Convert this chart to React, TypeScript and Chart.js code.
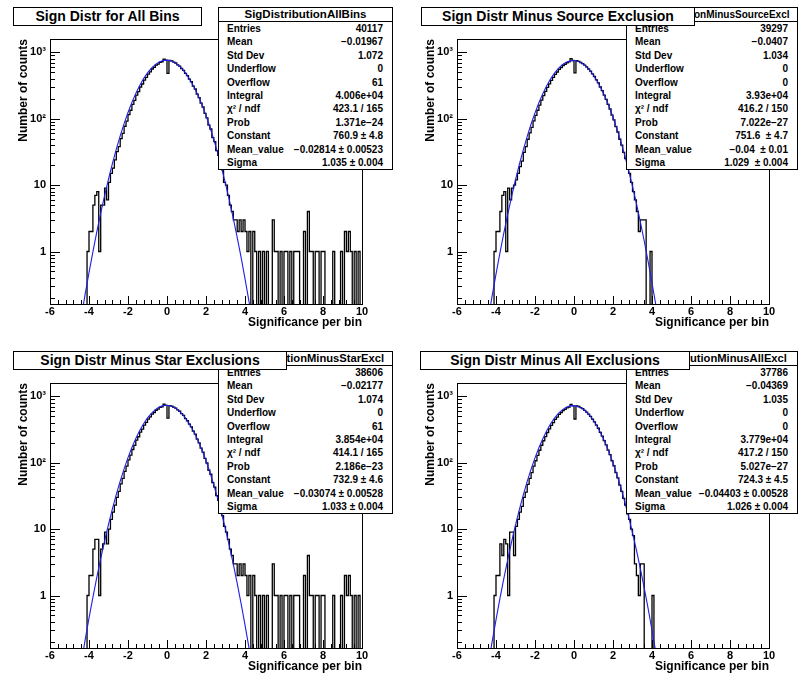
import React, { useEffect, useRef } from "react";
import { Chart, registerables } from "chart.js";

Chart.register(...registerables);

const FONT = "'Liberation Sans', Arial, Helvetica, sans-serif";

// ---------- axis ranges & ticks ----------
const X_MIN = -6;
const X_MAX = 10;
const Y_MIN = 0.162;
const Y_MAX = 1585;
const xTickValues = [-6, -4, -2, 0, 2, 4, 6, 8, 10];
const xTickLabels = ["-6", "-4", "-2", "0", "2", "4", "6", "8", "10"];
const yTickValues = [1, 10, 100, 1000];
const yTickLabels = ["1", "10", "10²", "10³"];

// ---------- histogram bins (width 0.1, core starts at -4.5, tail starts at 3.6) ----------
const BIN_START = -4.5;
const BIN_WIDTH = 0.1;

const countsAllBins = [
  0, 0, 0, 0, 1, 2, 2, 5, 7, 8, 1,
  5, 5, 9, 6, 11, 15, 18, 24, 32, 38,
  50, 60, 77, 92, 115, 134, 164, 189, 226, 255,
  300, 333, 382, 420, 470, 508, 560, 592, 640, 665,
  705, 720, 790, 760, 480, 752, 740, 710, 690, 648,
  618, 570, 535, 480, 445, 395, 360, 310, 280, 235,
  207, 172, 150, 120, 103, 80, 70, 52, 45, 33,
  28, 20, 17, 11, 10, 7, 5, 4, 3, 3,
];
const countsSourceExcl = [
  0, 0, 0, 0, 1, 2, 2, 4, 7, 8, 1,
  9, 6, 9, 10, 12, 15, 19, 23, 31, 38,
  49, 61, 74, 93, 112, 134, 160, 190, 222, 257,
  296, 335, 378, 418, 465, 505, 553, 588, 632, 660,
  696, 715, 800, 752, 490, 745, 730, 702, 676, 640,
  603, 560, 520, 472, 432, 384, 346, 300, 265, 226,
  196, 164, 140, 113, 96, 76, 63, 49, 40, 31,
  25, 18, 15, 11, 8, 6, 4, 2, 3, 3,
];
const countsStarExcl = [
  0, 0, 0, 0, 1, 2, 2, 5, 7, 7, 1,
  5, 6, 9, 6, 10, 14, 18, 23, 30, 37,
  48, 58, 74, 89, 110, 130, 158, 182, 218, 246,
  289, 321, 368, 405, 452, 490, 540, 570, 616, 640,
  680, 694, 760, 732, 470, 725, 713, 684, 664, 624,
  595, 549, 515, 462, 428, 380, 347, 298, 270, 226,
  199, 166, 144, 116, 99, 77, 67, 50, 43, 32,
  27, 19, 16, 11, 9, 7, 5, 4, 3, 3,
];
const countsAllExcl = [
  0, 0, 0, 0, 1, 2, 2, 6, 4, 7, 6,
  1, 9, 9, 4, 11, 14, 18, 22, 30, 36,
  47, 58, 71, 89, 107, 129, 154, 183, 214, 247,
  285, 322, 364, 402, 448, 486, 533, 566, 609, 636,
  670, 688, 755, 724, 455, 716, 702, 675, 650, 614,
  578, 537, 498, 452, 413, 367, 330, 286, 252, 215,
  186, 155, 132, 107, 90, 71, 59, 46, 37, 29,
  23, 17, 14, 10, 8, 3, 2, 1, 3, 3,
];

// tails from 3.6 upwards
const tailWithSources = [
  2, 3, 2, 3, 2, 1, 2, 0, 2, 1,
  0, 1, 0, 1, 0, 1, 0, 0, 3, 1,
  1, 0, 1, 0, 1, 1, 0, 1, 0, 1,
  1, 1, 0, 0, 2, 0, 4, 1, 1, 0,
  1, 1, 0, 1, 1, 0, 0, 0, 0, 1,
  0, 0, 0, 1, 0, 2, 1, 2, 1, 0,
  1, 0, 1, 0,
];
const tailSourceExcl = [3, 0, 0, 1, 0];
const tailAllExcl = [0, 0, 0, 0, 1, 0];

// ---------- gaussian fit curves, sampled ----------
const fitX = [
  -4.6, -4.4, -4.2, -4.0, -3.8, -3.6, -3.4, -3.2, -3.0, -2.8, -2.6, -2.4,
  -2.2, -2.0, -1.8, -1.6, -1.4, -1.2, -1.0, -0.8, -0.6, -0.4, -0.2, 0,
  0.2, 0.4, 0.6, 0.8, 1.0, 1.2, 1.4, 1.6, 1.8, 2.0, 2.2, 2.4,
  2.6, 2.8, 3.0, 3.2, 3.4, 3.6, 3.8, 4.0, 4.2, 4.4, 4.6,
];
const fitAllBins = [
  0.044, 0.101, 0.226, 0.48, 0.99, 1.97, 3.77, 6.95, 12.3, 21.1, 34.7, 55.1,
  84.2, 124, 176, 240, 316, 401, 490, 576, 653, 713, 751, 761,
  743, 699, 633, 553, 465, 376, 294, 221, 160, 112, 75.0, 48.6,
  30.3, 18.2, 10.5, 5.87, 3.16, 1.63, 0.815, 0.391, 0.181, 0.081, 0.035,
];
const fitSourceExcl = [
  0.041, 0.095, 0.213, 0.457, 0.947, 1.89, 3.63, 6.73, 12.0, 20.6, 34.0, 54.1,
  83.1, 122.5, 174, 238, 314, 398, 486, 572, 648, 707, 743, 751,
  731, 686, 619, 539, 451, 364, 282, 211, 152, 105, 70.3, 45.2,
  28.0, 16.7, 9.57, 5.29, 2.81, 1.44, 0.712, 0.338, 0.155, 0.068, 0.029,
];
const fitStarExcl = [
  0.041, 0.095, 0.213, 0.455, 0.94, 1.88, 3.6, 6.65, 11.8, 20.2, 33.3, 52.9,
  80.9, 119, 169, 231, 304, 386, 472, 555, 629, 687, 723, 733,
  715, 673, 609, 532, 447, 362, 282, 212, 153, 107, 71.7, 46.3,
  28.8, 17.3, 9.95, 5.53, 2.96, 1.52, 0.757, 0.361, 0.166, 0.074, 0.032,
];
const fitAllExcl = [
  0.037, 0.088, 0.2, 0.43, 0.9, 1.8, 3.45, 6.42, 11.5, 19.8, 32.8, 52.2,
  80.2, 118, 168, 230, 303, 384, 469, 552, 625, 682, 717, 724,
  704, 660, 595, 517, 432, 348, 269, 200, 144, 99, 66, 42.2,
  26.0, 15.4, 8.8, 4.85, 2.56, 1.3, 0.64, 0.3, 0.137, 0.06, 0.025,
];

// ---------- titles & statistics ----------
const panelTitles = [
  "Sign Distr for All Bins",
  "Sign Distr Minus Source Exclusion",
  "Sign Distr Minus Star Exclusions",
  "Sign Distr Minus All Exclusions",
];
const statNames = [
  "SigDistributionAllBins",
  "SigDistributionMinusSourceExcl",
  "SigDistributionMinusStarExcl",
  "SigDistributionMinusAllExcl",
];
const statLabels = [
  "Entries", "Mean", "Std Dev", "Underflow", "Overflow", "Integral",
  "χ² / ndf", "Prob", "Constant", "Mean_value", "Sigma",
];
const statsAllBins = [
  "40117", "−0.01967", "1.072", "0", "61", "4.006e+04",
  "423.1 / 165", "1.371e−24", "760.9 ± 4.8", "−0.02814 ± 0.00523", "1.035 ± 0.004",
];
const statsSourceExcl = [
  "39297", "−0.0407", "1.034", "0", "0", "3.93e+04",
  "416.2 / 150", "7.022e−27", "751.6  ± 4.7", "−0.04  ± 0.01", "1.029  ± 0.004",
];
const statsStarExcl = [
  "38606", "−0.02177", "1.074", "0", "61", "3.854e+04",
  "414.1 / 165", "2.186e−23", "732.9 ± 4.6", "−0.03074 ± 0.00528", "1.033 ± 0.004",
];
const statsAllExcl = [
  "37786", "−0.04369", "1.035", "0", "0", "3.779e+04",
  "417.2 / 150", "5.027e−27", "724.3 ± 4.5", "−0.04403 ± 0.00528", "1.026 ± 0.004",
];

const yTitle = "Number of counts";
const xTitle = "Significance per bin";

// ---------- layout (styles) ----------
const CANVAS_W = 393;
const CANVAS_H = 338;

const panels = [
  { left: 0, top: 0, core: countsAllBins, tail: tailWithSources, fit: fitAllBins, stats: statsAllBins,
    title: panelTitles[0], name: statNames[0], titleBox: [13, 189], statBox: [218, 175], headSize: 11.5 },
  { left: 407, top: 0, core: countsSourceExcl, tail: tailSourceExcl, fit: fitSourceExcl, stats: statsSourceExcl,
    title: panelTitles[1], name: statNames[1], titleBox: [14, 274], statBox: [219, 172], headSize: 10 },
  { left: 0, top: 344, core: countsStarExcl, tail: tailWithSources, fit: fitStarExcl, stats: statsStarExcl,
    title: panelTitles[2], name: statNames[2], titleBox: [13, 274], statBox: [218, 175], headSize: 11.2 },
  { left: 407, top: 344, core: countsAllExcl, tail: tailAllExcl, fit: fitAllExcl, stats: statsAllExcl,
    title: panelTitles[3], name: statNames[3], titleBox: [13, 270], statBox: [219, 172], headSize: 11.2 },
];

const frameTicks = {
  id: "frameTicks",
  afterDatasetsDraw(chart: any) {
    const { ctx, chartArea: a, scales } = chart;
    const xs = scales.x;
    const ys = scales.y;
    ctx.save();
    ctx.strokeStyle = "#000";
    ctx.lineWidth = 1;
    ctx.beginPath();
    // x ticks: major every 2, minor every 0.4
    for (let i = 0; i <= 40; i++) {
      const v = X_MIN + i * 0.4;
      const px = Math.round(xs.getPixelForValue(v)) + 0.5;
      const len = i % 5 === 0 ? 8 : 4;
      ctx.moveTo(px, a.bottom);
      ctx.lineTo(px, a.bottom - len);
    }
    // y ticks: decades + minor
    const decades = [0.1, 1, 10, 100, 1000];
    for (const d of decades) {
      for (let m = 1; m <= 9; m++) {
        const v = d * m;
        if (v < Y_MIN || v > Y_MAX) continue;
        const py = Math.round(ys.getPixelForValue(v)) + 0.5;
        const len = m === 1 ? 10 : 5;
        ctx.moveTo(a.left, py);
        ctx.lineTo(a.left + len, py);
      }
    }
    ctx.stroke();
    ctx.strokeRect(
      Math.round(a.left) + 0.5,
      Math.round(a.top) + 0.5,
      Math.round(a.right - a.left),
      Math.round(a.bottom - a.top)
    );
    ctx.restore();
  },
};

function Panel({ p }: { p: any }) {
  const ref = useRef<HTMLCanvasElement>(null);
  useEffect(() => {
    const bins = [...p.core, ...p.tail];
    const histPts = bins.map((v: number, i: number) => ({
      x: BIN_START + i * BIN_WIDTH,
      y: v > 0 ? v : 0.02,
    }));
    histPts.push({ x: BIN_START + bins.length * BIN_WIDTH, y: 0.02 });
    const fitPts = fitX.map((x, i) => ({ x, y: p.fit[i] }));
    const tickFont = { family: FONT, size: 11, weight: "bold" as const };
    const titleFont = { family: FONT, size: 12, weight: "bold" as const };
    const chart = new Chart(ref.current as HTMLCanvasElement, {
      type: "line",
      data: {
        datasets: [
          {
            data: fitPts,
            borderColor: "rgb(30,30,235)",
            borderWidth: 1.1,
            pointRadius: 0,
            tension: 0,
            order: 0,
          },
          {
            data: histPts,
            borderColor: "#000",
            borderWidth: 1.3,
            pointRadius: 0,
            stepped: "before",
            order: 1,
          },
        ],
      },
      options: {
        animation: false,
        responsive: false,
        devicePixelRatio: 1,
        layout: { padding: { top: 39, right: CANVAS_W - 362, left: 0, bottom: 0 } },
        plugins: { legend: { display: false }, tooltip: { enabled: false } },
        events: [],
        scales: {
          x: {
            type: "linear",
            min: X_MIN,
            max: X_MAX,
            afterBuildTicks: (s: any) => {
              s.ticks = xTickValues.map((v) => ({ value: v }));
            },
            afterFit: (s: any) => {
              s.height = CANVAS_H - 304;
            },
            ticks: {
              autoSkip: false,
              maxRotation: 0,
              padding: 1,
              color: "#000",
              font: tickFont,
              callback: (v: any) => {
                const i = xTickValues.indexOf(Number(v));
                return i >= 0 ? xTickLabels[i] : "";
              },
            },
            grid: { drawOnChartArea: false, drawTicks: false },
            border: { display: false },
            title: {
              display: true,
              text: xTitle,
              align: "end",
              color: "#000",
              font: titleFont,
              padding: { top: 0, bottom: 8 },
            },
          },
          y: {
            type: "logarithmic",
            min: Y_MIN,
            max: Y_MAX,
            afterBuildTicks: (s: any) => {
              s.ticks = yTickValues.map((v) => ({ value: v }));
            },
            afterFit: (s: any) => {
              s.width = 50;
            },
            ticks: {
              autoSkip: false,
              padding: 4,
              color: "#000",
              font: tickFont,
              callback: (v: any) => {
                const i = yTickValues.indexOf(Number(v));
                return i >= 0 ? yTickLabels[i] : "";
              },
            },
            grid: { drawOnChartArea: false, drawTicks: false },
            border: { display: false },
            title: {
              display: true,
              text: yTitle,
              align: "end",
              color: "#000",
              font: titleFont,
              padding: { top: 16, bottom: 0 },
            },
          },
        },
      },
      plugins: [frameTicks],
    } as any);
    return () => chart.destroy();
  }, []);

  const [sx, sw] = p.statBox;
  const [tx, tw] = p.titleBox;
  return (
    <div style={{ position: "absolute", left: p.left, top: p.top, width: CANVAS_W, height: CANVAS_H }}>
      <canvas
        ref={ref}
        width={CANVAS_W}
        height={CANVAS_H}
        style={{ position: "absolute", left: 0, top: 0, width: CANVAS_W, height: CANVAS_H }}
      />
      <div
        style={{
          position: "absolute",
          left: sx,
          top: 7,
          width: sw,
          boxSizing: "border-box",
          border: "1px solid #000",
          background: "#fff",
          fontFamily: FONT,
          fontWeight: "bold",
          fontSize: 10,
          color: "#000",
          overflow: "hidden",
        }}
      >
        <div
          style={{
            height: 13,
            lineHeight: "13px",
            borderBottom: "1px solid #000",
            textAlign: "center",
            fontSize: p.headSize,
            whiteSpace: "nowrap",
            display: "flex",
            justifyContent: "center",
          }}
        >
          <span>{p.name}</span>
        </div>
        {statLabels.map((l, i) => (
          <div
            key={l}
            style={{
              display: "flex",
              justifyContent: "space-between",
              height: 13.4,
              lineHeight: "13.4px",
              padding: "0 9px 0 8px",
              whiteSpace: "pre",
            }}
          >
            <span>{l}</span>
            <span>{p.stats[i]}</span>
          </div>
        ))}
      </div>
      <div
        style={{
          position: "absolute",
          left: tx,
          top: 7,
          width: tw,
          height: 19,
          boxSizing: "border-box",
          border: "1px solid #000",
          background: "#fff",
          fontFamily: FONT,
          fontWeight: "bold",
          fontSize: 14,
          lineHeight: "17px",
          textAlign: "center",
          color: "#000",
          whiteSpace: "nowrap",
        }}
      >
        {p.title}
      </div>
    </div>
  );
}

export default function App() {
  return (
    <div
      style={{
        position: "fixed",
        left: 0,
        top: 0,
        width: 800,
        height: 682,
        background: "#fff",
        overflow: "hidden",
      }}
    >
      {panels.map((p, i) => (
        <Panel key={i} p={p} />
      ))}
    </div>
  );
}
